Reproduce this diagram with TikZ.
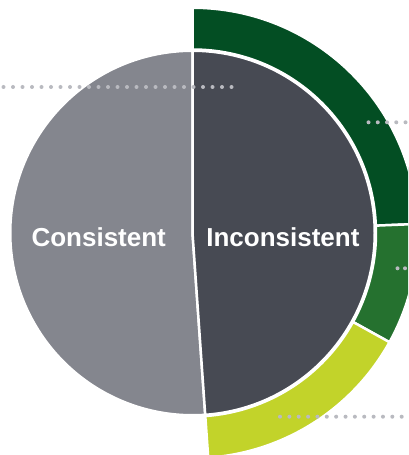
\documentclass[tikz,border=0pt]{standalone}
\usepackage{fontspec}
\setmainfont{Liberation Sans}
\usetikzlibrary{calc}
\definecolor{ringdark}{RGB}{3,78,35}
\definecolor{ringmid}{RGB}{37,113,47}
\definecolor{ringlime}{RGB}{194,211,42}
\definecolor{slicedark}{RGB}{71,74,83}
\definecolor{slicegray}{RGB}{132,134,142}
\definecolor{dotgray}{RGB}{185,186,192}
\tikzset{
  sep/.style={draw=white,line width=2.5pt,line join=miter},
  dotmark/.style={fill=dotgray,draw=none},
  lbl/.style={text=white,font=\bfseries\fontsize{26}{30}\selectfont,anchor=base,inner sep=0pt}
}
\begin{document}
\begin{tikzpicture}[x=1pt,y=1pt]
\useasboundingbox (0,0) rectangle (408,455);
\clip (0,0) rectangle (408,455);
\fill[white] (0,0) rectangle (408,455);
\coordinate (c) at (192.5,222);
\def\rp{182.25}
\def\ri{183.5}
\def\ro{225.25}
% pie
\path[fill=slicegray,sep] (c) -- ++(90:\rp) arc[start angle=90,end angle=274,radius=\rp] -- cycle;
\path[fill=slicedark,sep] (c) -- ++(90:\rp) arc[start angle=90,end angle=-86,radius=\rp] -- cycle;
% ring
\path[fill=ringdark,sep] ($(c)+(90:\ro)$) arc[start angle=90,end angle=2.3,radius=\ro] -- ($(c)+(2.3:\ri)$) arc[start angle=2.3,end angle=90,radius=\ri] -- cycle;
\path[fill=ringmid,sep] ($(c)+(2.3:\ro)$) arc[start angle=2.3,end angle=-29,radius=\ro] -- ($(c)+(-29:\ri)$) arc[start angle=-29,end angle=2.3,radius=\ri] -- cycle;
\path[fill=ringlime,sep] ($(c)+(-29:\ro)$) arc[start angle=-29,end angle=-86,radius=\ro] -- ($(c)+(-86:\ri)$) arc[start angle=-86,end angle=-29,radius=\ri] -- cycle;
% labels
\node[lbl] (cons) at (98.7,208.3) {Consistent};
\node[lbl] (incons) at (282.9,208.3) {Inconsistent};
% dotted leaders
\foreach \k in {0,...,24} \fill[dotmark] (3.5+9.5*\k,368) circle (2);
\foreach \k in {0,...,4} \fill[dotmark] (368.5+9.25*\k,332.7) circle (2);
\foreach \xx in {397.5,405} \fill[dotmark] (\xx,186.7) circle (2);
\foreach \k in {0,...,13} \fill[dotmark] (280+9.36*\k,38.3) circle (2);
\end{tikzpicture}
\end{document}
